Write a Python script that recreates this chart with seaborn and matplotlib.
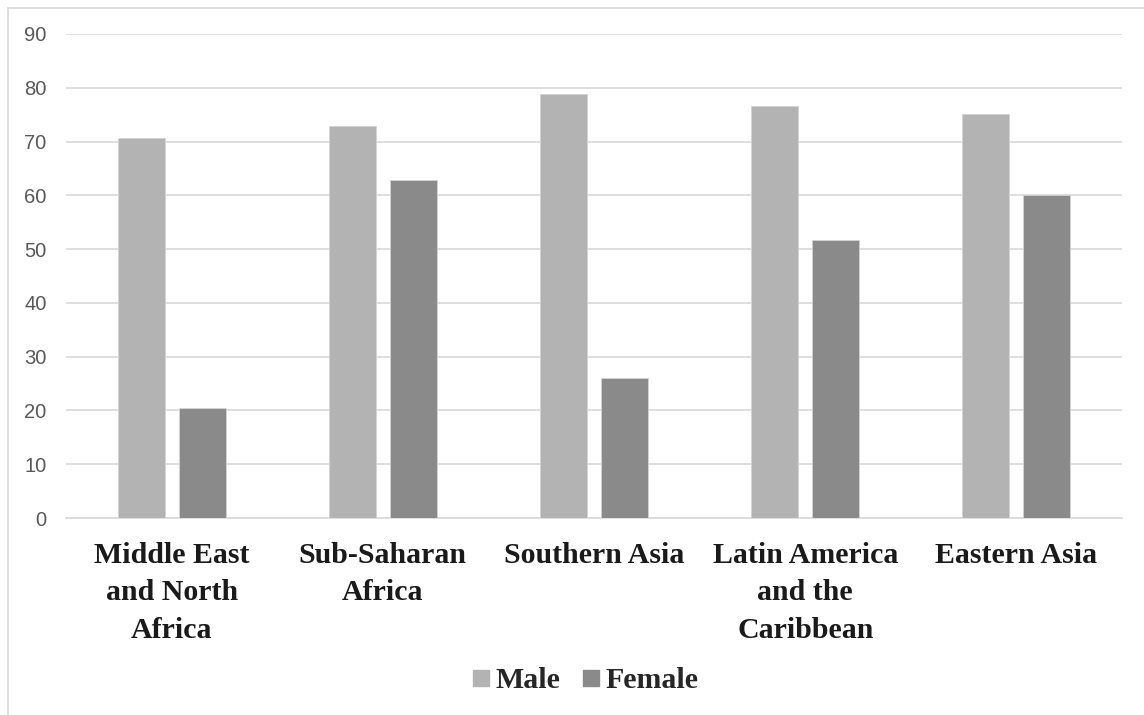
import matplotlib
matplotlib.use("Agg")
import matplotlib.pyplot as plt
from matplotlib.lines import Line2D
import pandas as pd
import seaborn as sns

# Regional values by sex
regions = ["Middle East\nand North\nAfrica", "Sub-Saharan\nAfrica", "Southern Asia",
           "Latin America\nand the\nCaribbean", "Eastern Asia"]
male = [70.7, 72.8, 78.8, 76.6, 75.2]
female = [20.5, 62.9, 26.0, 51.7, 60.0]
series = ["Male", "Female"]
y_ticks = [0, 10, 20, 30, 40, 50, 60, 70, 80, 90]

colors = {"Male": "#b3b3b3", "Female": "#8a8a8a"}
grid_color = "#d9d9d9"
serif_bold = dict(family="Liberation Serif", weight="bold", size=21.5, color="#1a1a1a")

df = pd.DataFrame({
    "region": regions * 2,
    "sex": ["Male"] * len(regions) + ["Female"] * len(regions),
    "value": male + female,
})

sns.set_theme(style="white")
plt.rcParams["font.family"] = ["Liberation Sans", "DejaVu Sans"]

fig = plt.figure(figsize=(11.44, 7.15), dpi=100)
ax = fig.add_axes([66 / 1144, 1 - 518 / 715, (1122 - 66) / 1144, (518 - 34) / 715])

sns.barplot(data=df, x="region", y="value", hue="sex", order=regions, hue_order=series,
            palette=colors, width=0.578, gap=0.23, saturation=1, ax=ax,
            edgecolor="#d4d4d4", linewidth=0.6, legend=False, zorder=3)

ax.set_xlim(-0.5, len(regions) - 0.5)
ax.set_ylim(0, 90)
ax.set_yticks(y_ticks)
ax.set_yticklabels([str(t) for t in y_ticks], fontsize=14.5, color="#595959")
ax.yaxis.grid(True, color=grid_color, linewidth=1.2, zorder=0)
ax.set_axisbelow(True)
for side in ("top", "right", "left"):
    ax.spines[side].set_visible(False)
ax.spines["bottom"].set_color(grid_color)
ax.spines["bottom"].set_linewidth(1.2)
ax.tick_params(axis="y", length=0, pad=14)
ax.tick_params(axis="x", length=0, pad=17)
ax.set_xlabel("")
ax.set_ylabel("")
ax.set_xticks(range(len(regions)))
ax.set_xticklabels(regions, fontdict=serif_bold, linespacing=1.5, va="top", ha="center")

# Legend with small square keys
handles = [Line2D([0], [0], marker="s", linestyle="none", markersize=11,
                  markerfacecolor=colors[s], markeredgecolor=colors[s]) for s in series]
fig.legend(handles, series, loc="center", bbox_to_anchor=(586 / 1144, 1 - 681 / 715),
           ncol=2, frameon=False, handlelength=0.5, handletextpad=0.25, columnspacing=0.75,
           prop=dict(family="Liberation Serif", weight="bold", size=21.5))

# Thin outer frame of the chart area
fig.add_artist(Line2D([8 / 1144, 1.0], [1 - 8 / 715, 1 - 8 / 715], transform=fig.transFigure,
                      color=grid_color, linewidth=1.2))
fig.add_artist(Line2D([8 / 1144, 8 / 1144], [0.0, 1 - 8 / 715], transform=fig.transFigure,
                      color=grid_color, linewidth=1.2))

fig.savefig("out.png", dpi=100, facecolor="white")
